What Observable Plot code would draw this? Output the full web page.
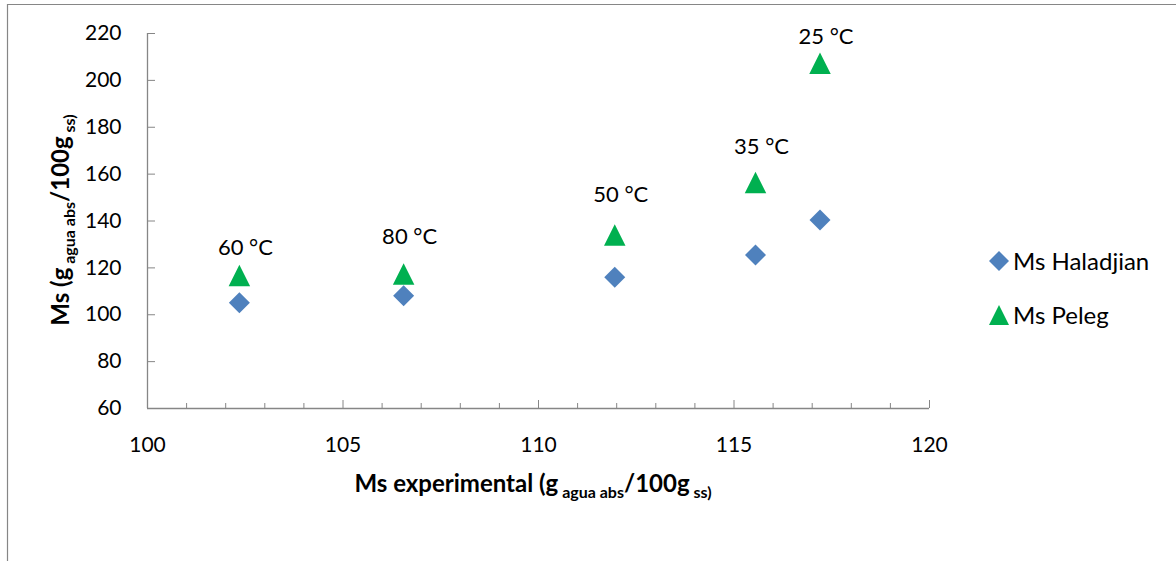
<!DOCTYPE html>
<html><head><meta charset="utf-8">
<script src="https://cdn.jsdelivr.net/npm/d3@7"></script>
<script src="https://cdn.jsdelivr.net/npm/@observablehq/plot@0.6"></script>
<style>
html,body{margin:0;padding:0;background:#fff;overflow:hidden}
#chart{position:relative;width:1176px;height:561px}
</style></head><body><div id="chart"></div>
<script>
// ---- data ----
const temperatures = ["60 °C", "80 °C", "50 °C", "35 °C", "25 °C"];
const msExperimental = [102.35, 106.55, 111.95, 115.55, 117.2];
const msHaladjian = [105.1, 108.1, 116.0, 125.5, 140.4];
const msPeleg = [116.7, 117.4, 134.0, 156.4, 207.3];
const seriesNames = ["Ms Haladjian", "Ms Peleg"];
const xTicksMajor = [100, 105, 110, 115, 120];
const xTicksMinor = [101, 102, 103, 104, 106, 107, 108, 109, 111, 112, 113, 114, 116, 117, 118, 119];
const yTicks = [60, 80, 100, 120, 140, 160, 180, 200, 220];
// label offsets (style): vertical offset of each temperature label above its marker, px
const labelOffsets = [-27.5, -37.5, -40.5, -36, -26.6];

const haladjian = msExperimental.map((x, i) => ({x, y: msHaladjian[i]}));
const peleg = msExperimental.map((x, i) => ({x, y: msPeleg[i], t: temperatures[i], i}));

const BLUE = "#4F81BD", GREEN = "#00B050", GRAY = "#868686";
const FONT = "Lato, 'Open Sans', sans-serif";

const diamondSym = {draw(ctx, size) {const r = Math.sqrt(size / Math.PI);
  ctx.moveTo(0, -r); ctx.lineTo(r, 0); ctx.lineTo(0, r); ctx.lineTo(-r, 0); ctx.closePath();}};
const triangleSym = {draw(ctx, size) {const r = Math.sqrt(size / Math.PI);
  ctx.moveTo(0, -r); ctx.lineTo(r, r); ctx.lineTo(-r, r); ctx.closePath();}};

const labelMarks = peleg.map((d, i) =>
  Plot.text([d], {x: "x", y: "y", text: "t", dy: labelOffsets[i], dx: 6, fontSize: 22, fill: "#000"}));

const plot = Plot.plot({
  width: 1176, height: 561,
  marginLeft: 147, marginRight: 247, marginTop: 33, marginBottom: 153,
  style: {fontFamily: FONT, background: "#fff", overflow: "visible"},
  x: {domain: [100, 120], label: null},
  y: {domain: [60, 220], label: null},
  marks: [
    Plot.axisX({ticks: xTicksMinor, tickSize: -5, stroke: GRAY, fill: "none", label: null}),
    Plot.axisX({ticks: xTicksMajor, tickSize: -8, tickPadding: 37, stroke: GRAY, fill: "#000",
      fontSize: 21, label: null, tickFormat: d => String(d)}),
    Plot.axisY({ticks: yTicks, tickSize: -8, tickPadding: 34, stroke: GRAY, fill: "#000",
      fontSize: 21, label: null, tickFormat: d => String(d)}),
    Plot.ruleY([60], {stroke: GRAY, strokeWidth: 1.3}),
    Plot.ruleX([100], {stroke: GRAY, strokeWidth: 1.3}),
    Plot.dot(haladjian, {x: "x", y: "y", symbol: diamondSym, r: 10.5, fill: BLUE, stroke: "none"}),
    Plot.dot(peleg, {x: "x", y: "y", symbol: triangleSym, r: 10.75, fill: GREEN, stroke: "none"}),
    ...labelMarks
  ]
});
document.getElementById("chart").appendChild(plot);

const svg = d3.select(plot);
// outer chart frame (left and top edges visible)
svg.insert("path", ":first-child").attr("d", "M7.5,561V4.5H1176")
  .attr("fill", "none").attr("stroke", GRAY).attr("stroke-width", 1.2);

function title(sel, parts) {
  let shifted = 0;
  parts.forEach(([s, sub]) => {
    const target = sub ? 6 : 0;
    sel.append("tspan").attr("font-size", sub ? 16 : 24)
      .attr("dy", target - shifted).text(s);
    shifted = target;
  });
}
const xt = svg.append("text").attr("x", 533).attr("y", 492).attr("text-anchor", "middle")
  .attr("font-weight", "bold").attr("font-family", FONT).attr("fill", "#000");
title(xt, [["Ms experimental (g", false], [" agua abs", true], ["/100g", false], [" ss)", true]]);

const yt = svg.append("text").attr("transform", "translate(69,220) rotate(-90)").attr("text-anchor", "middle")
  .attr("font-weight", "bold").attr("font-family", FONT).attr("fill", "#000");
title(yt, [["Ms (g", false], [" agua abs", true], ["/100g", false], [" ss)", true]]);

// legend
const lg = svg.append("g").attr("font-family", FONT).attr("font-size", 24).attr("text-anchor", "start");
const sw = [[diamondSym, BLUE, 261], [triangleSym, GREEN, 315]];
sw.forEach(([sym, col, cy], i) => {
  lg.append("path").attr("transform", `translate(999,${cy})`)
    .attr("d", d3.symbol(sym, Math.PI * 10 * 10)()).attr("fill", col);
  lg.append("text").attr("x", 1013).attr("y", cy).attr("dy", "0.36em").attr("fill", "#000").text(seriesNames[i]);
});
</script></body></html>
